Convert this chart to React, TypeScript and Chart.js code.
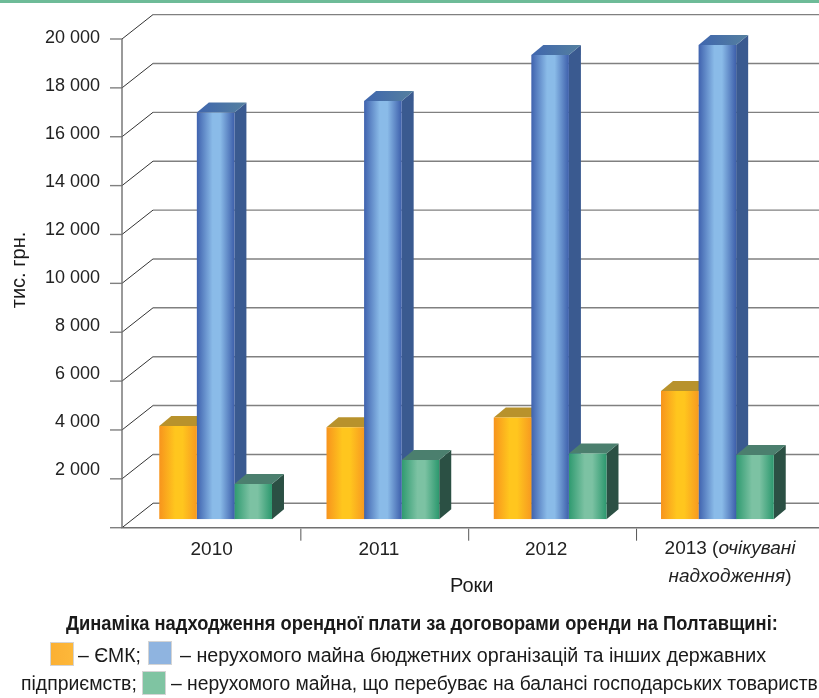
import React, { useEffect, useRef } from "react";
import { Chart, registerables } from "chart.js";

Chart.register(...registerables);

const categories = ["2010", "2011", "2012", "2013 (очікувані надходження)"];
const emkValues = [3820, 3770, 4170, 5250];
const budgetValues = [16650, 17120, 19000, 19410];
const companyValues = [1445, 2430, 2690, 2630];
const gridValues = [0, 2000, 4000, 6000, 8000, 10000, 12000, 14000, 16000, 18000, 20000];

const FONT = '"Liberation Sans", Arial, sans-serif';

const palette = [
  { edge: "#f7941d", mid: "#ffc61e", edge2: "#f79a20", top: "#b8922c", topB: "#b8922c", side: "#a8761c" },
  { edge: "#3f62ae", mid: "#8abbe8", edge2: "#3d5fab", top: "#3f66ae", topB: "#55809f", side: "#3a5a90" },
  { edge: "#2f9a70", mid: "#7cc2a3", edge2: "#2c986e", top: "#4b7f6e", topB: "#4b7f6e", side: "#2b5044" },
];

const barPlugin = {
  id: "bars3d",
  beforeDatasetsDraw(chart: any) {
    const { ctx, scales } = chart;
    const y = scales.y;
    const frontDX = -10, frontDY = 8.4, backDX = 21, backDY = -16;
    const left = chart.chartArea.left;
    ctx.save();
    gridValues.forEach((v) => {
      const py = y.getPixelForValue(v);
      const fx = left + frontDX, fy = py + frontDY, bx = left + backDX, by = py + backDY;
      ctx.strokeStyle = "#808080";
      ctx.lineWidth = 1.4;
      ctx.beginPath();
      ctx.moveTo(bx, by);
      ctx.lineTo(819, by);
      ctx.stroke();
      ctx.beginPath();
      ctx.moveTo(fx - 12, fy);
      ctx.lineTo(fx, fy);
      ctx.stroke();
      ctx.strokeStyle = "#333333";
      ctx.lineWidth = 1;
      ctx.beginPath();
      ctx.moveTo(fx, fy);
      ctx.lineTo(bx, by);
      ctx.stroke();
    });
    const fx = left + frontDX;
    const y0 = y.getPixelForValue(0) + frontDY;
    const yTop = y.getPixelForValue(20000) + frontDY;
    ctx.strokeStyle = "#707070";
    ctx.lineWidth = 1.4;
    ctx.beginPath();
    ctx.moveTo(fx, yTop);
    ctx.lineTo(fx, y0);
    ctx.lineTo(819, y0);
    ctx.stroke();
    const xs = scales.x;
    ctx.strokeStyle = "#555555";
    ctx.lineWidth = 1;
    [1, 2, 3].forEach((i) => {
      const tx = xs.getPixelForValue(i) - (xs.getPixelForValue(1) - xs.getPixelForValue(0)) / 2 + 1 + i * 0.6;
      ctx.beginPath();
      ctx.moveTo(tx, y0 + 1);
      ctx.lineTo(tx, y0 + 13);
      ctx.stroke();
    });

    // depth faces, painted before the library draws the front faces of the bars
    const dx = 12, dy = -10;
    palette.forEach((c, di) => {
      chart.getDatasetMeta(di).data.forEach((el: any) => {
        const l = el.x - el.width / 2;
        const r = el.x + el.width / 2;
        const top = el.y;
        const base = el.base;
        ctx.fillStyle = c.side;
        ctx.beginPath();
        ctx.moveTo(r, top);
        ctx.lineTo(r + dx, top + dy);
        ctx.lineTo(r + dx, base + dy);
        ctx.lineTo(r, base);
        ctx.closePath();
        ctx.fill();
        const tg = ctx.createLinearGradient(l, 0, r + dx, 0);
        tg.addColorStop(0, c.top);
        tg.addColorStop(1, c.topB);
        ctx.fillStyle = tg;
        ctx.beginPath();
        ctx.moveTo(l, top);
        ctx.lineTo(l + dx, top + dy);
        ctx.lineTo(r + dx, top + dy);
        ctx.lineTo(r, top);
        ctx.closePath();
        ctx.fill();
        const g = ctx.createLinearGradient(l, 0, r, 0);
        g.addColorStop(0, c.edge);
        g.addColorStop(0.42, c.mid);
        g.addColorStop(0.62, c.mid);
        g.addColorStop(1, c.edge2);
        el.options = { ...el.options, backgroundColor: g };
      });
    });
    ctx.restore();
  },
  afterDraw(chart: any) {
    const { ctx } = chart;
    const runs = [
      [{ t: "2013 (", i: false }, { t: "очікувані", i: true }],
      [{ t: "надходження", i: true }, { t: ")", i: false }],
    ];
    const ys = [549, 577];
    ctx.save();
    ctx.fillStyle = "#222222";
    ctx.textBaseline = "middle";
    ctx.textAlign = "left";
    runs.forEach((line, li) => {
      const fontOf = (r: any) => `${r.i ? "italic " : ""}19px ${FONT}`;
      let w = 0;
      line.forEach((r) => {
        ctx.font = fontOf(r);
        w += ctx.measureText(r.t).width;
      });
      let x = 730 - w / 2;
      line.forEach((r) => {
        ctx.font = fontOf(r);
        ctx.fillText(r.t, x, ys[li]);
        x += ctx.measureText(r.t).width;
      });
    });
    ctx.restore();
  },
};

const textStyle = (left: number, top: number, sx: number, extra: any = {}): React.CSSProperties => ({
  position: "absolute",
  left,
  top,
  whiteSpace: "nowrap",
  fontFamily: FONT,
  fontSize: 20,
  lineHeight: "22px",
  color: "#1a1a1a",
  transform: `scaleX(${sx})`,
  transformOrigin: "left center",
  ...extra,
});

const swatch = (left: number, top: number, color: string, color2: string): React.CSSProperties => ({
  position: "absolute",
  left,
  top,
  width: 24,
  height: 24,
  background: `linear-gradient(90deg, ${color}, ${color2})`,
  border: "1px solid #d4d4d4",
  boxSizing: "border-box",
});

export default function App() {
  const ref = useRef<HTMLCanvasElement>(null);
  useEffect(() => {
    const makeDs = (label: string, data: number[], color: string) => ({
      label,
      data,
      backgroundColor: color,
      borderWidth: 0,
      yAxisID: "y",
      categoryPercentage: 0.674,
      barPercentage: 1,
    });
    const noMargins = (s: any) => {
      s.paddingTop = 0;
      s.paddingBottom = 0;
      s.paddingLeft = 0;
      s.paddingRight = 0;
    };
    const chart = new Chart(ref.current as HTMLCanvasElement, {
      type: "bar",
      data: {
        labels: categories,
        datasets: [
          makeDs("ЄМК", emkValues, "#ffb627"),
          makeDs("нерухомого майна бюджетних організацій та інших державних підприємств", budgetValues, "#8abbe8"),
          makeDs("нерухомого майна, що перебуває на балансі господарських товариств", companyValues, "#7cc2a3"),
        ],
      },
      options: {
        responsive: false,
        animation: false,
        layout: { padding: { top: 30.6, right: 18, left: 0, bottom: 0 } },
        plugins: { legend: { display: false }, title: { display: false }, tooltip: { enabled: false } },
        scales: {
          x: {
            grid: { display: false },
            border: { display: false },
            ticks: {
              autoSkip: false,
              maxRotation: 0,
              padding: 11,
              labelOffset: -4,
              color: "#222222",
              font: { family: FONT, size: 19 },
              callback: (_v: any, i: number) => (i === 3 ? "" : categories[i]),
            },
            afterFit: (s: any) => {
              s.height = 178.7;
              noMargins(s);
            },
          },
          y: { display: false, min: 0, max: 20000 },
          yLabels: {
            position: "left",
            min: -54.5,
            max: 20308,
            grid: { display: false },
            border: { display: false },
            afterBuildTicks: (s: any) => {
              s.ticks = gridValues.filter((v) => v > 0).map((value) => ({ value }));
            },
            ticks: {
              padding: 24,
              color: "#222222",
              font: { family: FONT, size: 18 },
              callback: (v: any) => String(v).replace(/(\d)(?=(\d{3})$)/, "$1 "),
            },
            afterFit: (s: any) => {
              s.width = 132;
              noMargins(s);
            },
          },
        },
      },
      plugins: [barPlugin],
    } as any);
    return () => chart.destroy();
  }, []);

  return (
    <div style={{ position: "fixed", left: 0, top: 0, width: 819, height: 698, overflow: "hidden", background: "#fff" }}>
      <canvas ref={ref} width={819} height={698} style={{ position: "absolute", left: 0, top: 0 }} />
      <div style={{ position: "absolute", left: 0, top: 0, width: 819, height: 3, background: "#6ebb98" }} />
      <div style={textStyle(-27, 259, 1, { transform: "rotate(-90deg)", transformOrigin: "center", width: 90, textAlign: "center" })}>тис. грн.</div>
      <div style={textStyle(450, 574, 1)}>Роки</div>
      <div style={textStyle(66, 612, 0.915, { fontWeight: 700 })}>Динаміка надходження орендної плати за договорами оренди на Полтавщині:</div>
      <div style={swatch(50, 642, "#fbb034", "#fdb83a")} />
      <div style={textStyle(78, 644, 0.97)}>– ЄМК;</div>
      <div style={swatch(148, 641, "#8fb4e0", "#8fb4e0")} />
      <div style={textStyle(180, 644, 0.985)}>– нерухомого майна бюджетних організацій та інших державних</div>
      <div style={textStyle(21, 672, 0.97)}>підприємств;</div>
      <div style={swatch(142, 671, "#7fc4a2", "#7fc4a2")} />
      <div style={textStyle(171, 672, 0.965)}>– нерухомого майна, що перебуває на балансі господарських товариств</div>
    </div>
  );
}
